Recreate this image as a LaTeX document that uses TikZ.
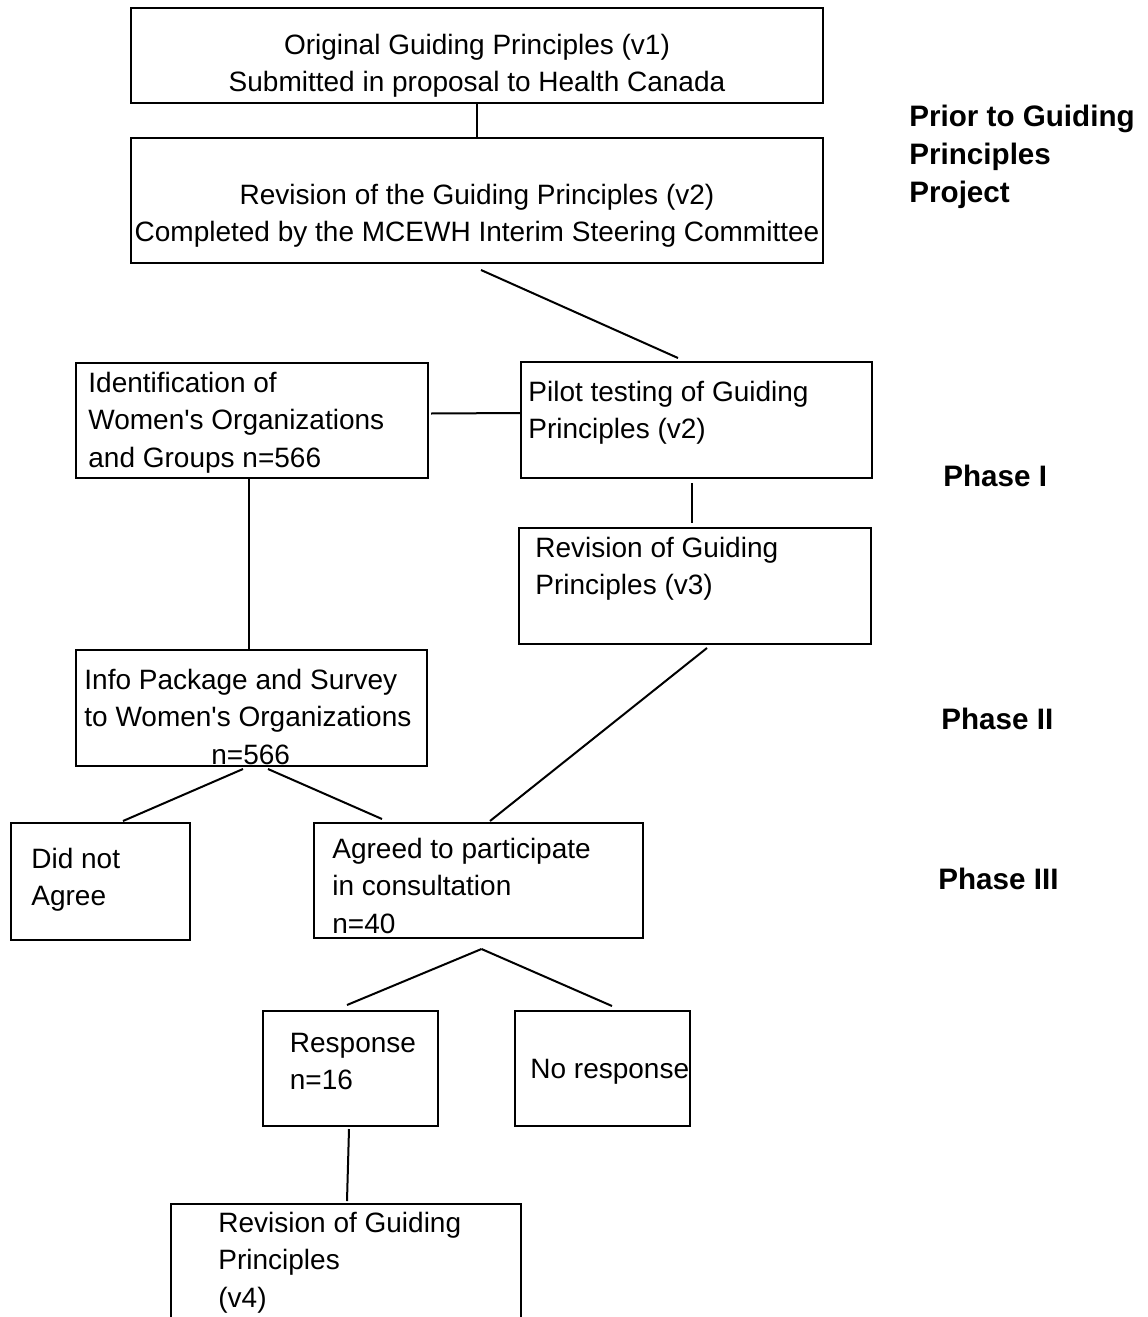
\documentclass[tikz,border=0pt]{standalone}
\usepackage{fontspec}
\setmainfont{Liberation Sans}
\usetikzlibrary{calc}

\tikzset{
  box/.style 2 args={draw, line width=1pt, minimum width=#1*0.5pt, minimum height=#2*0.5pt, inner sep=0pt},
  txt/.style={align=left, inner sep=0pt, font=\fontsize{14pt}{18.75pt}\selectfont},
  ctxt/.style={align=center, inner sep=0pt, font=\fontsize{14pt}{18.75pt}\selectfont},
  phase/.style={align=left, inner sep=0pt, anchor=base west, font=\fontsize{14.8pt}{19pt}\selectfont\bfseries},
  link/.style={line width=1pt}
}

\begin{document}
\begin{tikzpicture}[x=0.5pt, y=-0.5pt, label distance=0pt]
  \clip (0,0) rectangle (1147,1317);

  % boxes (label base = last line)
  \node[box={692}{95}, label={[ctxt, anchor=base, yshift=-42.25pt]north:Original Guiding Principles (v1)\\Submitted in proposal to Health Canada}] (v1) at (477,55.5) {};
  \node[box={692}{125}, label={[ctxt, anchor=base, yshift=-52.25pt]north:Revision of the Guiding Principles (v2)\\Completed by the MCEWH Interim Steering Committee}] (v2) at (477,200.5) {};
  \node[box={352}{115}, label={[txt, anchor=base west, xshift=6.5pt, yshift=-52.5pt]north west:Identification of\\Women\textquotesingle s Organizations\\and Groups n=566}] (ident) at (252,420.5) {};
  \node[box={351}{116}, label={[txt, anchor=base west, xshift=4pt, yshift=-38.75pt]north west:Pilot testing of Guiding\\Principles (v2)}] (pilot) at (696.5,420) {};
  \node[box={352}{116}, label={[txt, anchor=base west, xshift=8.5pt, yshift=-33.75pt]north west:Revision of Guiding\\Principles (v3)}] (v3) at (695,586) {};
  \node[box={351}{116}, label={[txt, anchor=base west, xshift=4.5pt, yshift=-57.5pt]north west:Info Package and Survey\\to Women\textquotesingle s Organizations\\\hspace*{63.5pt}n=566}] (info) at (251.5,708) {};
  \node[box={179}{117}, label={[txt, anchor=base west, xshift=10.5pt, yshift=-41.75pt]north west:Did not\\Agree}] (dna) at (100.5,881.5) {};
  \node[box={329}{115}, label={[txt, anchor=base west, xshift=9.5pt, yshift=-55.5pt]north west:Agreed to participate\\in consultation\\n=40}] (agreed) at (478.5,880.5) {};
  \node[box={175}{115}, label={[txt, anchor=base west, xshift=14pt, yshift=-39.75pt]north west:Response\\n=16}] (resp) at (350,1068.5) {};
  \node[box={175}{115}, label={[txt, anchor=base west, xshift=8pt, yshift=-34pt]north west:No response}] (nore) at (602.5,1068.5) {};
  \node[box={350}{126}, label={[txt, anchor=base west, xshift=24pt, yshift=-52pt]north west:Revision of Guiding\\Principles\\(v4)}] (v4) at (346,1267) {};

  % phases
  \node[phase] (prior) at (909,202) {Prior to Guiding\\Principles\\Project};
  \node[phase] (ph1) at (943,486) {Phase I};
  \node[phase] (ph2) at (941,729) {Phase II};
  \node[phase] (ph3) at (938,889) {Phase III};

  % connectors
  \draw[link] (v1.south) -- (v2.north);
  \draw[link] ($(v2.south)+(4,6)$) -- ($(pilot.north)+(-18.5,-3)$);
  \draw[link] ($(ident.east)+(2,-7)$) -- ($(pilot.west)+(0,-7)$);
  \draw[link] ($(pilot.south)+(-4.5,4)$) -- ($(v3.north)+(-3,-4)$);
  \draw[link] ($(ident.south)+(-3,0)$) -- ($(info.north)+(-2.5,0)$);
  \draw[link] ($(v3.south)+(12,3)$) -- ($(agreed.north)+(11.5,-1)$);
  \draw[link] ($(info.south)+(-8.5,2)$) -- ($(dna.north)+(22.5,-1)$);
  \draw[link] ($(info.south)+(16.5,2)$) -- ($(agreed.north)+(-96.5,-3)$);
  \draw[link] ($(agreed.south)+(3,10)$) -- ($(resp.north)+(-3,-5)$);
  \draw[link] ($(agreed.south)+(3,10)$) -- ($(nore.north)+(9.5,-4)$);
  \draw[link] ($(resp.south)+(-1,2)$) -- ($(v4.north)+(1,-2)$);
\end{tikzpicture}
\end{document}
